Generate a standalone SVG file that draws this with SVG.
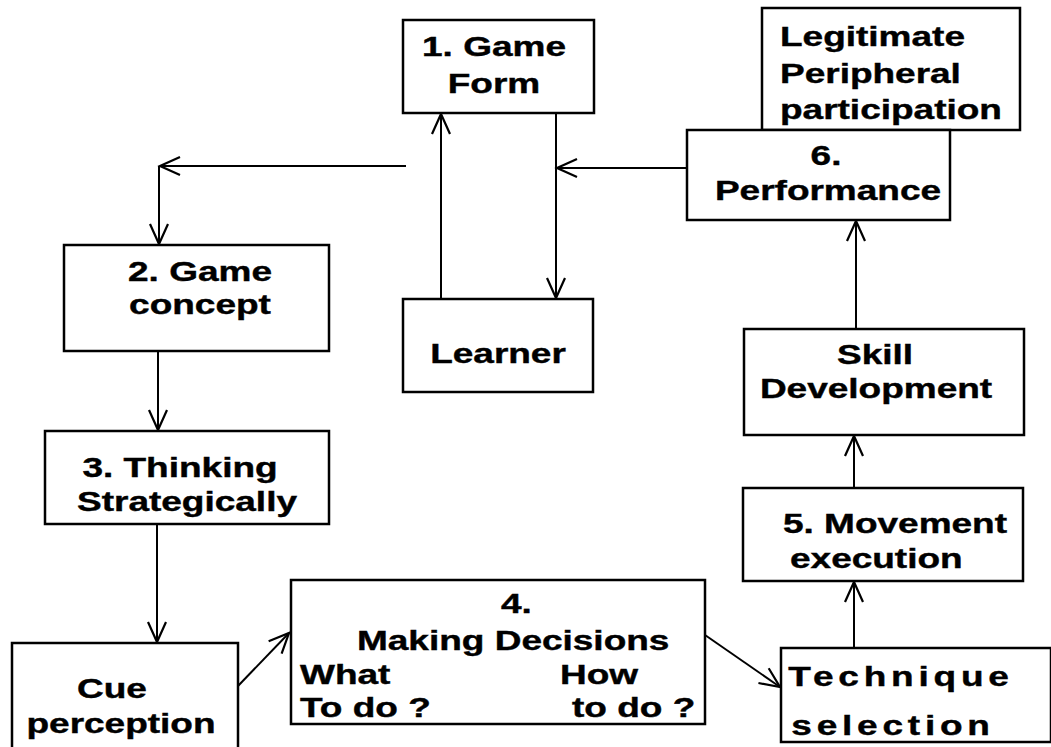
<svg xmlns="http://www.w3.org/2000/svg" width="1051" height="747" viewBox="0 0 1051 747">
<style>
.box{fill:#fff;stroke:#000;stroke-width:2.5}
.ln{fill:none;stroke:#000;stroke-width:2;marker-end:url(#ah)}
text{font-family:"Liberation Sans",Arial,sans-serif;font-weight:bold;font-size:27px;fill:#000;stroke:#000;stroke-width:0.4}
.m{text-anchor:middle}
</style>
<defs>
<marker id="ah" viewBox="-24 -12 26 24" markerWidth="26" markerHeight="24" refX="0" refY="0" orient="auto" markerUnits="userSpaceOnUse" overflow="visible">
<path d="M-20,-9 L0,0 L-20,9" fill="none" stroke="#000" stroke-width="2.2"/>
</marker>
</defs>
<rect width="1051" height="747" fill="#fff"/>
<g id="connectors">
<line class="ln" x1="441" y1="299" x2="441" y2="114"/>
<line class="ln" x1="556" y1="114" x2="556" y2="298"/>
<line class="ln" x1="687" y1="168" x2="557" y2="168"/>
<line class="ln" x1="406" y1="166" x2="160" y2="166"/>
<line class="ln" x1="159" y1="166" x2="159" y2="244"/>
<line class="ln" x1="158" y1="351" x2="158" y2="430"/>
<line class="ln" x1="157" y1="524" x2="157" y2="642"/>
<line class="ln" x1="238" y1="686" x2="289" y2="633"/>
<line class="ln" x1="705" y1="635" x2="780" y2="687"/>
<line class="ln" x1="854" y1="648" x2="854" y2="582"/>
<line class="ln" x1="854" y1="488" x2="854" y2="436"/>
<line class="ln" x1="856" y1="329" x2="856" y2="221"/>
</g>
<g id="legitimate">
<rect class="box" x="762" y="8" width="258" height="122"/>
<text transform="translate(780,46) scale(1.37,1)">Legitimate</text>
<text transform="translate(780,83) scale(1.37,1)">Peripheral</text>
<text transform="translate(780,119) scale(1.37,1)">participation</text>
</g>
<g id="performance">
<rect class="box" x="687" y="130" width="263" height="90"/>
<text class="m" transform="translate(826,165) scale(1.37,1)">6.</text>
<text class="m" transform="translate(828,200) scale(1.37,1)">Performance</text>
</g>
<g id="gameform">
<rect class="box" x="403" y="20" width="191" height="93"/>
<text class="m" transform="translate(494,56) scale(1.37,1)">1. Game</text>
<text class="m" transform="translate(494,93) scale(1.37,1)">Form</text>
</g>
<g id="learner">
<rect class="box" x="403" y="299" width="190" height="93"/>
<text class="m" transform="translate(498,363) scale(1.37,1)">Learner</text>
</g>
<g id="gameconcept">
<rect class="box" x="64" y="245" width="265" height="106"/>
<text class="m" transform="translate(200,281) scale(1.37,1)">2. Game</text>
<text class="m" transform="translate(200,314) scale(1.37,1)">concept</text>
</g>
<g id="thinking">
<rect class="box" x="45" y="431" width="284" height="93"/>
<text class="m" transform="translate(180,477) scale(1.37,1)">3. Thinking</text>
<text class="m" transform="translate(187,511) scale(1.37,1)">Strategically</text>
</g>
<g id="cue">
<rect class="box" x="12" y="643" width="226" height="120"/>
<text class="m" transform="translate(112,698) scale(1.37,1)">Cue</text>
<text class="m" transform="translate(121,733) scale(1.37,1)">perception</text>
</g>
<g id="decisions">
<rect class="box" x="291" y="580" width="414" height="144"/>
<text transform="translate(501,613) scale(1.37,1)">4.</text>
<text transform="translate(357,650) scale(1.37,1)">Making Decisions</text>
<text transform="translate(300,684) scale(1.37,1)">What</text>
<text transform="translate(300,717) scale(1.37,1)">To do ?</text>
<text transform="translate(560,684) scale(1.37,1)">How</text>
<text transform="translate(572,717) scale(1.37,1)">to do ?</text>
</g>
<g id="technique">
<rect class="box" x="781" y="648" width="270" height="94"/>
<text class="m" transform="translate(901,686) scale(1.37,1)" letter-spacing="3.5">Technique</text>
<text class="m" transform="translate(893,735) scale(1.37,1)" letter-spacing="3.5">selection</text>
</g>
<g id="movement">
<rect class="box" x="743" y="488" width="280" height="93"/>
<text transform="translate(783,533) scale(1.37,1)">5. Movement</text>
<text transform="translate(790,568) scale(1.37,1)">execution</text>
</g>
<g id="skill">
<rect class="box" x="744" y="329" width="280" height="106"/>
<text class="m" transform="translate(875,364) scale(1.37,1)">Skill</text>
<text class="m" transform="translate(876,398) scale(1.37,1)">Development</text>
</g>
</svg>
